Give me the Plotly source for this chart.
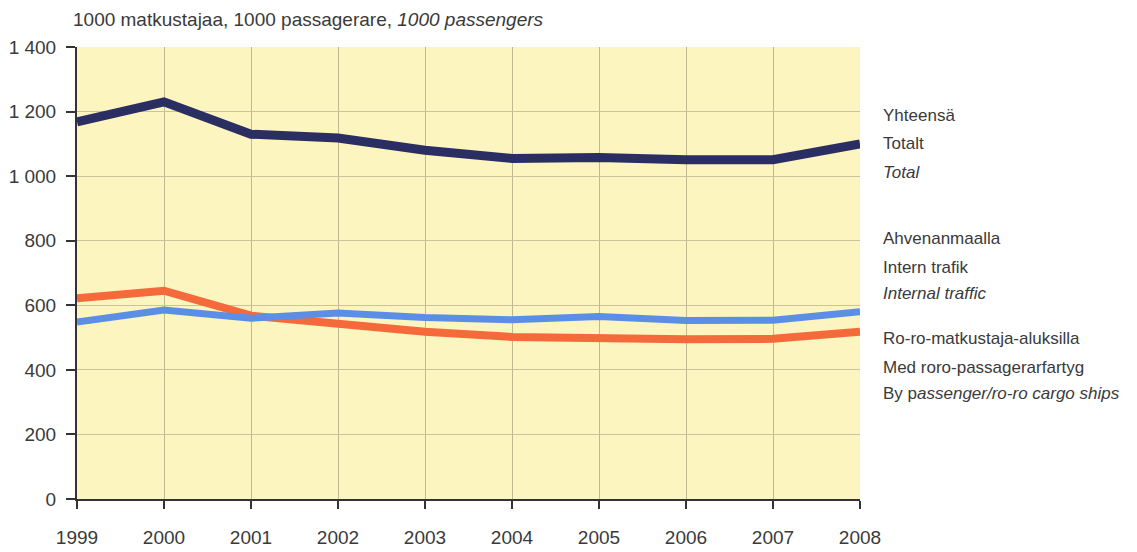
import plotly.graph_objects as go

years = [1999, 2000, 2001, 2002, 2003, 2004, 2005, 2006, 2007, 2008]
total = [1168, 1230, 1130, 1118, 1080, 1055, 1058, 1051, 1051, 1100]
internal = [622, 645, 568, 540, 518, 502, 496, 495, 496, 518]
roro = [548, 585, 560, 576, 562, 555, 565, 553, 554, 580]

y_tickvals = [0, 200, 400, 600, 800, 1000, 1200, 1400]
y_ticktext = ["0", "200", "400", "600", "800", "1 000", "1 200", "1 400"]

title_text = "1000 matkustajaa, 1000 passagerare, <i>1000 passengers</i>"
legend_lines = [
    "Yhteensä", "Totalt", "<i>Total</i>",
    "Ahvenanmaalla", "Intern trafik", "<i>Internal traffic</i>",
    "Ro-ro-matkustaja-aluksilla", "Med roro-passagerarfartyg",
    "By p<i>assenger/ro-ro cargo ships</i>",
]
# pixel rows of the legend text lines (layout)
legend_py = [115, 143, 172, 238, 267, 293, 338, 367, 393]

FONT = "Liberation Sans Narrow, Arial Narrow, Liberation Sans, Arial, sans-serif"
TXT = "#3a3a3a"

W, H = 1137, 552
L, R, T, B = 77, 277, 47, 53
plot_h = H - T - B

fig = go.Figure()
fig.add_trace(go.Scatter(x=years, y=internal, mode="lines",
                         line=dict(color="#f46a3b", width=8), name="Internal"))
fig.add_trace(go.Scatter(x=years, y=roro, mode="lines",
                         line=dict(color="#5b8fe5", width=7), name="Ro-ro"))
fig.add_trace(go.Scatter(x=years, y=total, mode="lines",
                         line=dict(color="#2b2e63", width=9), name="Total"))

fig.update_layout(
    width=W, height=H,
    margin=dict(l=L, r=R, t=T, b=B, autoexpand=False),
    paper_bgcolor="white",
    plot_bgcolor="#fdf5c0",
    showlegend=False,
    font=dict(family=FONT, size=19, color=TXT),
)
fig.update_xaxes(
    range=[years[0], years[-1]],
    tickvals=years, automargin=False,
    ticks="outside", ticklen=8, tickwidth=2, tickcolor="#333",
    ticklabelstandoff=12,
    showline=True, linecolor="#333", linewidth=2,
    showgrid=True, gridcolor="#bfba90", gridwidth=1,
    zeroline=False,
    tickfont=dict(family=FONT, size=19, color=TXT),
)
fig.update_yaxes(
    range=[0, 1400],
    tickvals=y_tickvals, ticktext=y_ticktext, automargin=False,
    ticks="outside", ticklen=9, tickwidth=2, tickcolor="#333",
    ticklabelstandoff=6,
    showline=True, linecolor="#333", linewidth=2,
    showgrid=True, gridcolor="#c9c49a", gridwidth=1,
    zeroline=False,
    tickfont=dict(family=FONT, size=19, color=TXT),
)

fig.add_annotation(text=title_text, xref="paper", yref="paper",
                   x=0, xshift=-6, y=1, yshift=28, xanchor="left", yanchor="middle",
                   showarrow=False,
                   font=dict(family=FONT, size=19, color=TXT))

for t, py in zip(legend_lines, legend_py):
    fig.add_annotation(text=t, xref="paper", yref="paper",
                       x=1, xshift=21, y=(H - B - py) / plot_h,
                       xanchor="left", yanchor="middle", showarrow=False,
                       font=dict(family=FONT, size=17, color=TXT))

fig.write_html("out.html",
               config={"displayModeBar": False},
               post_script="document.body.style.margin='0';document.body.style.overflow='hidden';")
